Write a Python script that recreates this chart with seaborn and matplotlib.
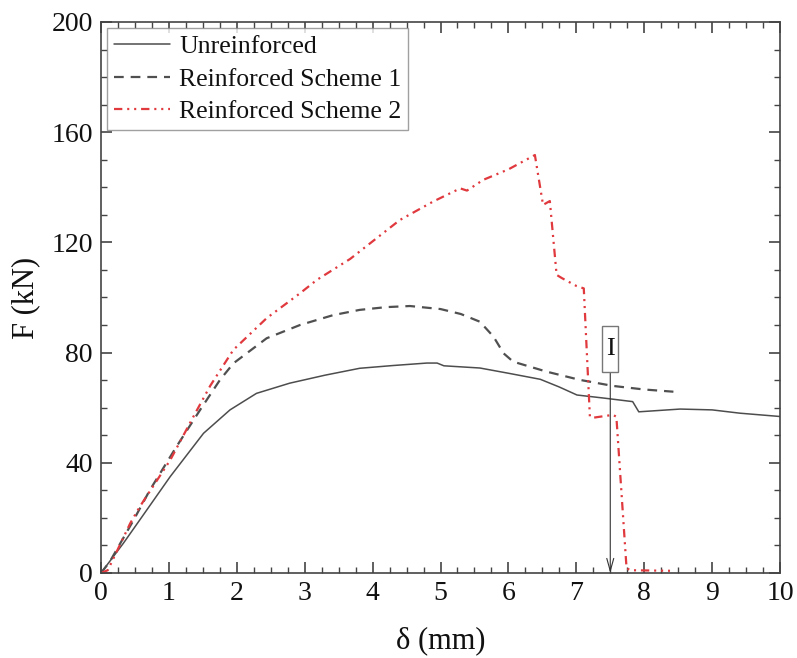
import matplotlib
matplotlib.use("Agg")
import matplotlib.pyplot as plt
from matplotlib.patches import Rectangle
from matplotlib.ticker import MultipleLocator
import seaborn as sns
import pandas as pd

# ---------------- data ----------------
unre_x = [0.0, 0.33, 0.57, 1.02, 1.51, 1.90, 2.29, 2.78, 3.30, 3.81, 4.30, 4.80, 4.95,
          5.05, 5.58, 6.00, 6.47, 6.75, 7.01, 7.40, 7.83, 7.92, 8.53, 9.00, 9.41, 10.0]
unre_y = [0.0, 10.8, 19.2, 35.0, 50.7, 59.2, 65.2, 68.9, 71.8, 74.3, 75.3, 76.2, 76.2,
          75.2, 74.4, 72.5, 70.3, 67.5, 64.6, 63.5, 62.2, 58.5, 59.5, 59.2, 58.0, 56.8]

s1_x = [0.0, 0.13, 0.48, 0.72, 1.11, 1.46, 1.75, 1.95, 2.44, 2.93, 3.42, 3.81, 4.20,
        4.55, 5.00, 5.30, 5.58, 5.78, 5.93, 6.07, 6.56, 7.05, 7.54, 8.00, 8.43]
s1_y = [0.0, 4.1, 19.2, 30.1, 45.8, 59.2, 70.0, 76.1, 85.2, 90.0, 93.6, 95.5, 96.5,
        96.9, 95.8, 94.0, 91.2, 85.8, 79.7, 76.7, 73.1, 70.1, 67.9, 66.6, 65.8]

s2_x = [0.0, 0.10, 0.43, 0.57, 1.02, 1.36, 1.61, 1.95, 2.44, 2.93, 3.18, 3.67, 4.40,
        4.89, 5.29, 5.39, 5.63, 6.00, 6.39, 6.51, 6.61, 6.71, 6.79, 7.00, 7.11, 7.20,
        7.26, 7.54, 7.59, 7.74, 7.80, 8.38]
s2_y = [0.0, 1.0, 18.0, 24.0, 41.0, 56.7, 68.0, 81.0, 92.5, 101.5, 106.4, 114.0, 128.1,
        134.8, 139.6, 138.8, 142.7, 146.5, 151.7, 133.6, 135.0, 108.2, 107.0, 104.2, 103.3, 56.7,
        56.4, 57.4, 56.7, 1.7, 1.0, 0.8]

labels = ["Unreinforced", "Reinforced Scheme 1", "Reinforced Scheme 2"]
x_ticks = [0, 1, 2, 3, 4, 5, 6, 7, 8, 9, 10]
y_ticks = [0, 40, 80, 120, 160, 200]

annot_text = "I"
annot_x = 7.5
annot_box_y = [73.1, 89.7]
annot_box_w = 0.236

# ---------------- style ----------------
sns.set_style("ticks")
plt.rcParams["font.family"] = ["Liberation Serif", "DejaVu Serif"]
plt.rcParams["lines.scale_dashes"] = False

AX_COL = "#444444"
fig = plt.figure(figsize=(7.97, 6.58), dpi=100)
ax = fig.add_axes([0.1267, 0.1292, 0.8520, 0.8374])

df1 = pd.DataFrame({"x": unre_x, "y": unre_y})
df2 = pd.DataFrame({"x": s1_x, "y": s1_y})
df3 = pd.DataFrame({"x": s2_x, "y": s2_y})

sns.lineplot(data=df1, x="x", y="y", ax=ax, color="#4d4d4d", lw=1.1,
             label=labels[0], sort=False, estimator=None)
sns.lineplot(data=df2, x="x", y="y", ax=ax, color="#505050", lw=1.6,
             linestyle=(0, (7, 5)), label=labels[1], sort=False, estimator=None)
sns.lineplot(data=df3, x="x", y="y", ax=ax, color="#e0393e", lw=1.6,
             linestyle=(0, (6, 3.5, 1.5, 3.5, 1.5, 3.5)), label=labels[2],
             sort=False, estimator=None)

# annotation box + arrow
ax.add_patch(Rectangle((annot_x - annot_box_w / 2, annot_box_y[0]), annot_box_w,
                       annot_box_y[1] - annot_box_y[0], facecolor="white",
                       edgecolor="#777777", lw=1.0, zorder=5))
ax.text(annot_x, (annot_box_y[0] + annot_box_y[1]) / 2, annot_text, ha="center",
        va="center", fontsize=19, color="#111111", zorder=6)
ax.annotate("", xy=(annot_x, 0), xytext=(annot_x, annot_box_y[0]),
            arrowprops=dict(arrowstyle="->,head_length=0.9,head_width=0.25",
                            lw=0.8, color="#333333", shrinkA=0, shrinkB=0), zorder=4)

ax.set_xlim(0, 10)
ax.set_ylim(0, 200)
ax.set_xticks(x_ticks)
ax.set_yticks(y_ticks)
ax.xaxis.set_minor_locator(MultipleLocator(0.25))
ax.yaxis.set_minor_locator(MultipleLocator(10))
ax.tick_params(which="both", direction="in", top=True, right=True, colors=AX_COL,
               labelcolor="#111111")
ax.tick_params(which="major", length=8, width=1.2, labelsize=20, pad=6)
ax.tick_params(which="minor", length=4, width=1.0)
for sp in ax.spines.values():
    sp.set_color(AX_COL)
    sp.set_linewidth(1.2)

ax.set_xlabel("δ (mm)", fontsize=22, color="#111111", labelpad=14)
ax.set_ylabel("F (kN)", fontsize=22, color="#111111", labelpad=8)

leg = ax.legend(loc="upper left", fontsize=18.5, frameon=True, fancybox=False,
                borderaxespad=0.25, handlelength=2.2, handletextpad=0.35,
                labelspacing=0.38, borderpad=0.25)
leg.get_frame().set_edgecolor("#888888")
leg.get_frame().set_linewidth(1.0)
for t in leg.get_texts():
    t.set_color("#111111")

fig.savefig("out.png", dpi=100)
